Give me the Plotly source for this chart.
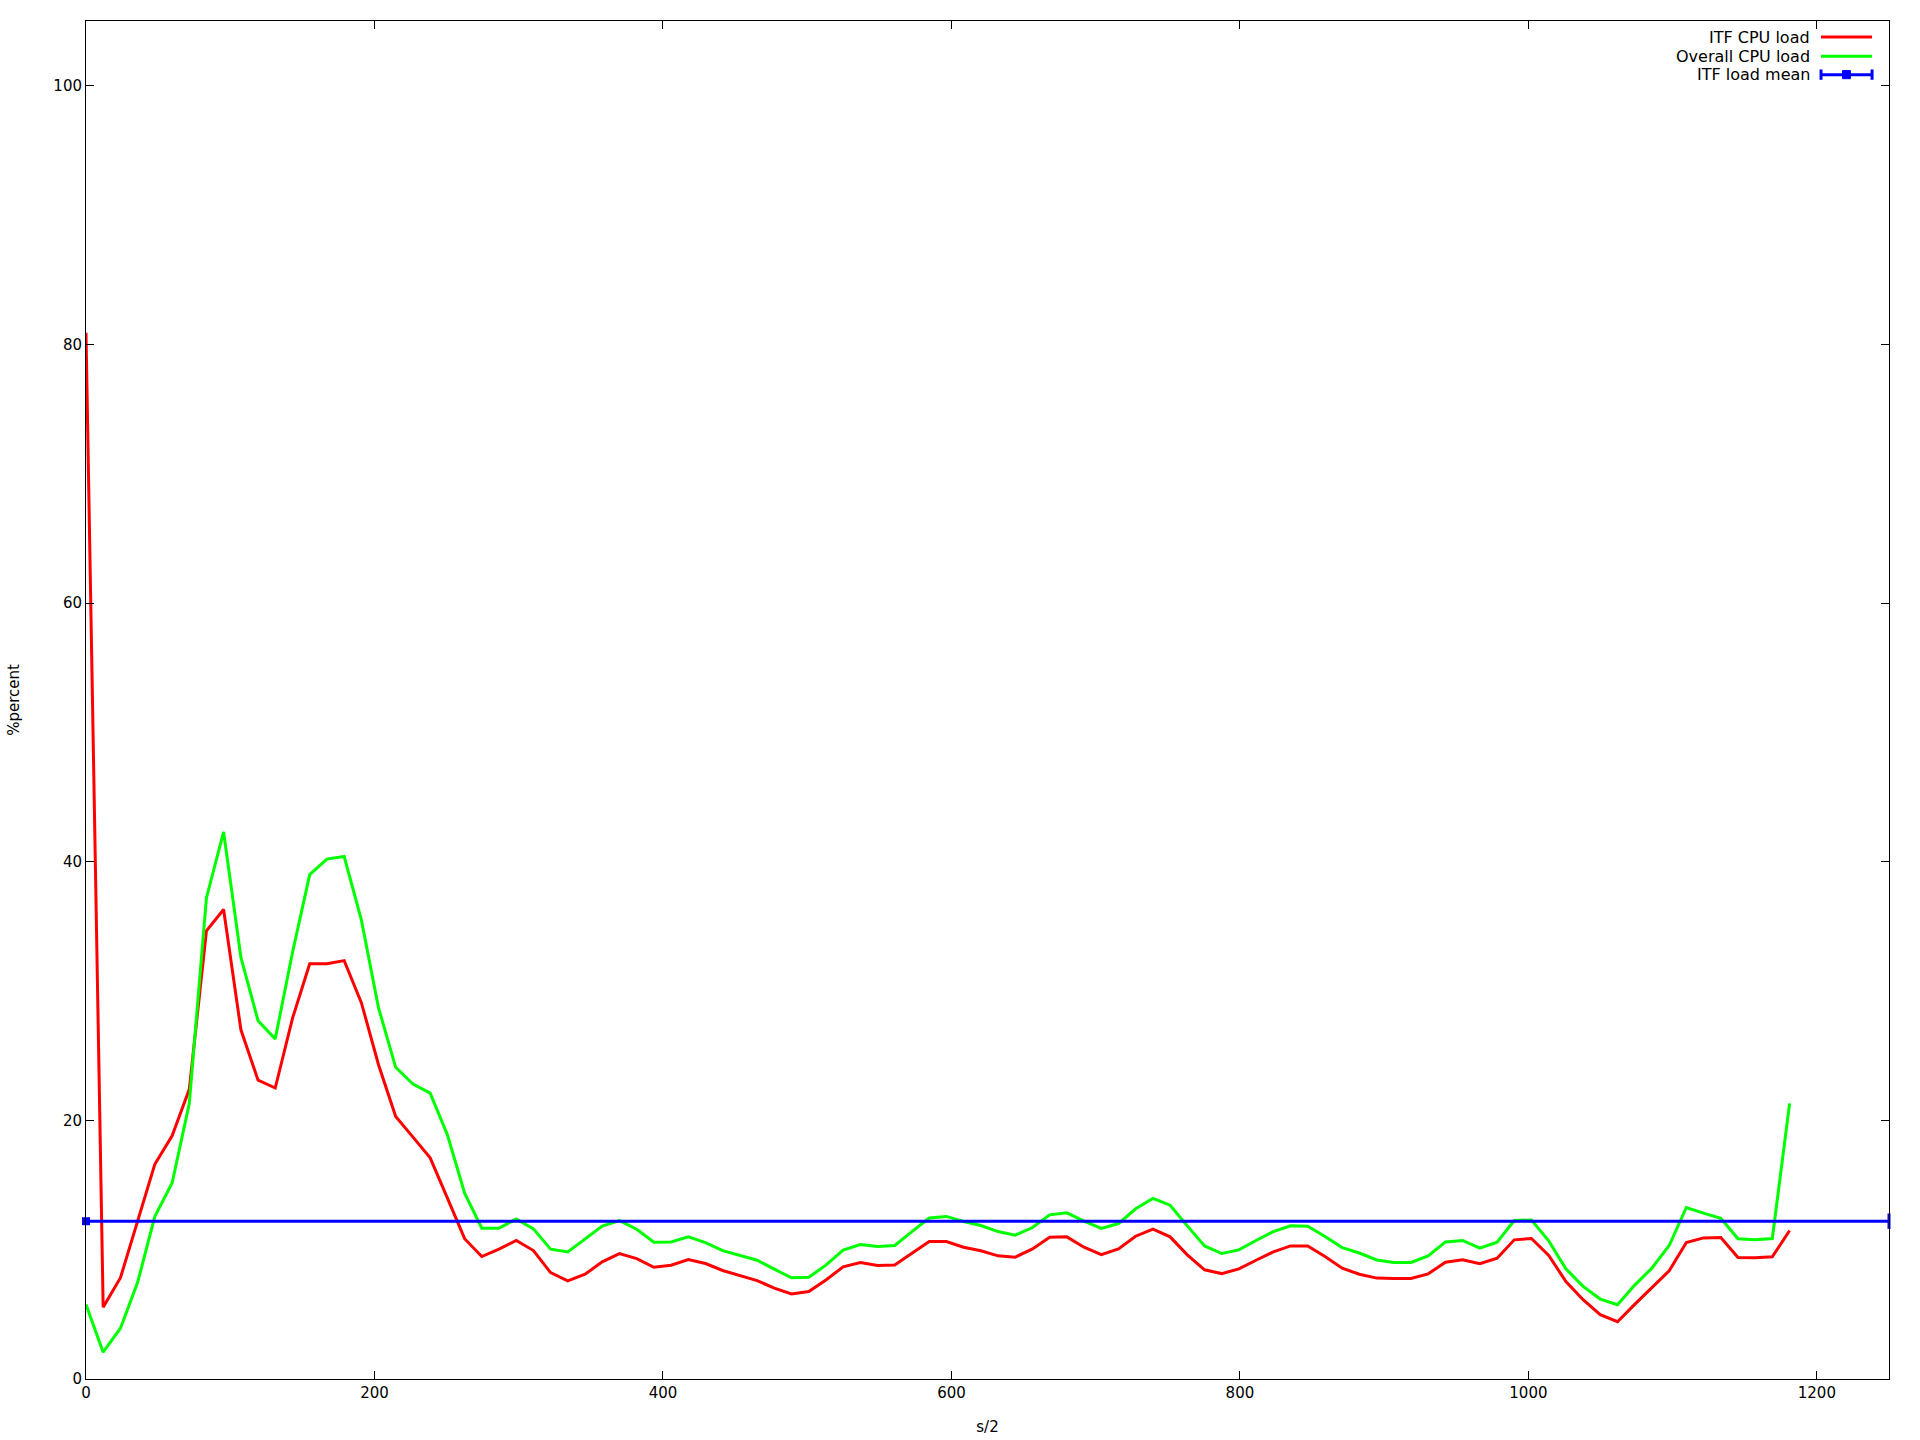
import plotly.graph_objects as go

# ---- data ----
sample_t = [0, 11.9, 23.9, 35.8, 47.7, 59.7, 71.6, 83.5, 95.4, 107.4,
            119.3, 131.2, 143.2, 155.1, 167.0, 179.0, 190.9, 202.8, 214.7, 226.7,
            238.6, 250.5, 262.5, 274.4, 286.3, 298.3, 310.2, 322.1, 334.0, 346.0,
            357.9, 369.8, 381.8, 393.7, 405.6, 417.6, 429.5, 441.4, 453.3, 465.3,
            477.2, 489.1, 501.1, 513.0, 524.9, 536.9, 548.8, 560.7, 572.6, 584.6,
            596.5, 608.4, 620.4, 632.3, 644.2, 656.2, 668.1, 680.0, 691.9, 703.9,
            715.8, 727.7, 739.7, 751.6, 763.5, 775.5, 787.4, 799.3, 811.2, 823.2,
            835.1, 847.0, 859.0, 870.9, 882.8, 894.8, 906.7, 918.6, 930.5, 942.5,
            954.4, 966.3, 978.3, 990.2, 1002.1, 1014.1, 1026.0, 1037.9, 1049.8, 1061.8,
            1073.7, 1085.6, 1097.6, 1109.5, 1121.4, 1133.4, 1145.3, 1157.2, 1169.1, 1181.1]

itf_cpu_load = [80.9, 5.55, 7.83, 12.2, 16.6, 18.8, 22.4, 34.65, 36.3, 27.0,
                23.1, 22.5, 27.9, 32.1, 32.1, 32.35, 29.1, 24.3, 20.3, 18.7,
                17.1, 14.0, 10.85, 9.47, 10.04, 10.71, 9.93, 8.23, 7.59, 8.10,
                9.06, 9.70, 9.31, 8.64, 8.80, 9.24, 8.93, 8.39, 8.02, 7.61,
                7.02, 6.58, 6.76, 7.66, 8.67, 9.00, 8.77, 8.82, 9.73, 10.63,
                10.63, 10.19, 9.91, 9.52, 9.42, 10.06, 10.96, 10.99, 10.19, 9.62,
                10.06, 11.04, 11.58, 10.99, 9.60, 8.44, 8.15, 8.51, 9.18, 9.83,
                10.29, 10.29, 9.47, 8.57, 8.10, 7.80, 7.78, 7.77, 8.13, 9.03,
                9.21, 8.91, 9.34, 10.76, 10.86, 9.55, 7.54, 6.13, 4.97, 4.43,
                5.77, 7.08, 8.37, 10.55, 10.91, 10.94, 9.40, 9.37, 9.45, 11.48]

overall_cpu_load = [5.76, 2.07, 3.93, 7.47, 12.56, 15.15, 21.3, 37.2, 42.3, 32.6,
                    27.7, 26.3, 33.0, 39.0, 40.2, 40.4, 35.5, 28.7, 24.1, 22.8,
                    22.1, 18.9, 14.37, 11.66, 11.66, 12.38, 11.61, 10.04, 9.83, 10.84,
                    11.82, 12.25, 11.58, 10.58, 10.60, 10.99, 10.55, 9.93, 9.57, 9.18,
                    8.49, 7.82, 7.87, 8.80, 9.96, 10.40, 10.24, 10.32, 11.40, 12.45,
                    12.57, 12.18, 11.87, 11.40, 11.12, 11.71, 12.69, 12.85, 12.20, 11.64,
                    12.02, 13.16, 13.96, 13.44, 11.84, 10.29, 9.70, 9.98, 10.71, 11.40,
                    11.84, 11.82, 11.02, 10.16, 9.74, 9.20, 9.01, 9.01, 9.52, 10.60,
                    10.71, 10.12, 10.58, 12.25, 12.30, 10.68, 8.52, 7.16, 6.18, 5.74,
                    7.26, 8.57, 10.32, 13.26, 12.82, 12.43, 10.84, 10.76, 10.86, 21.31]

itf_load_mean = 12.2

x_range = [0, 1250]
y_range = [0, 105]
x_ticks = [0, 200, 400, 600, 800, 1000, 1200]
y_ticks = [0, 20, 40, 60, 80, 100]

series_names = ["ITF CPU load", "Overall CPU load", "ITF load mean"]
RED, GREEN, BLUE = "#ff0000", "#00ff00", "#0000ff"
FONT = "DejaVu Sans"

fig = go.Figure()
fig.add_trace(go.Scatter(x=sample_t, y=itf_cpu_load, mode="lines",
                         line=dict(color=RED, width=3), name=series_names[0],
                         showlegend=False))
fig.add_trace(go.Scatter(x=sample_t, y=overall_cpu_load, mode="lines",
                         line=dict(color=GREEN, width=3), name=series_names[1],
                         showlegend=False))
# mean line across the whole x range
fig.add_trace(go.Scatter(x=x_range, y=[itf_load_mean, itf_load_mean], mode="lines",
                         line=dict(color=BLUE, width=3), name=series_names[2],
                         showlegend=False))
# point marker at the start and error-bar cap at the end
fig.add_trace(go.Scatter(x=[x_range[0]], y=[itf_load_mean], mode="markers",
                         marker=dict(symbol="square", size=8, color=BLUE),
                         cliponaxis=False, showlegend=False))
fig.add_trace(go.Scatter(x=[x_range[1]], y=[itf_load_mean], mode="markers",
                         marker=dict(symbol="line-ns", size=11,
                                     line=dict(color=BLUE, width=3)),
                         cliponaxis=False, showlegend=False))

axis_common = dict(showline=True, linecolor="black", linewidth=1, mirror="ticks",
                   ticks="inside", ticklen=8, tickcolor="black", tickwidth=1,
                   showgrid=False, zeroline=False, automargin=False,
                   tickfont=dict(family=FONT, size=15, color="black"))

fig.update_xaxes(range=x_range, tickvals=x_ticks, **axis_common,
                 title=dict(text="s/2", font=dict(family=FONT, size=15, color="black"),
                            standoff=20))
fig.update_yaxes(range=y_range, tickvals=y_ticks, **axis_common,
                 title=dict(text="%percent", font=dict(family=FONT, size=15, color="black"),
                            standoff=30))

# ---- gnuplot-style key (text left of sample) ----
key_rows = [0.9882, 0.9740, 0.9605]
key_colors = [RED, GREEN, BLUE]
tx, sx0, sx1, smid = 0.9573, 0.9623, 0.9906, 0.9764
shapes = []
annotations = []
for name, col, yy in zip(series_names, key_colors, key_rows):
    annotations.append(dict(xref="paper", yref="paper", x=tx, y=yy, text=name,
                            showarrow=False, xanchor="right", yanchor="middle",
                            font=dict(family=FONT, size=16, color="black")))
    shapes.append(dict(type="line", xref="paper", yref="paper", x0=sx0, x1=sx1,
                       y0=yy, y1=yy, line=dict(color=col, width=3)))
yb = key_rows[2]
for cx in (sx0, sx1):
    shapes.append(dict(type="line", xref="paper", yref="paper", x0=cx, x1=cx,
                       y0=yb - 0.0038, y1=yb + 0.0038, line=dict(color=BLUE, width=3)))
shapes.append(dict(type="rect", xref="paper", yref="paper", x0=smid - 0.0022,
                   x1=smid + 0.0022, y0=yb - 0.003, y1=yb + 0.003,
                   line=dict(color=BLUE, width=1), fillcolor=BLUE))

fig.update_layout(width=1920, height=1440,
                  margin=dict(l=86, r=31, t=21, b=61, pad=0),
                  plot_bgcolor="white", paper_bgcolor="white",
                  font=dict(family=FONT, size=15, color="black"),
                  shapes=shapes, annotations=annotations, showlegend=False)

fig.write_html("out.html", config={"displayModeBar": False},
               post_script="document.body.style.margin='0';")
